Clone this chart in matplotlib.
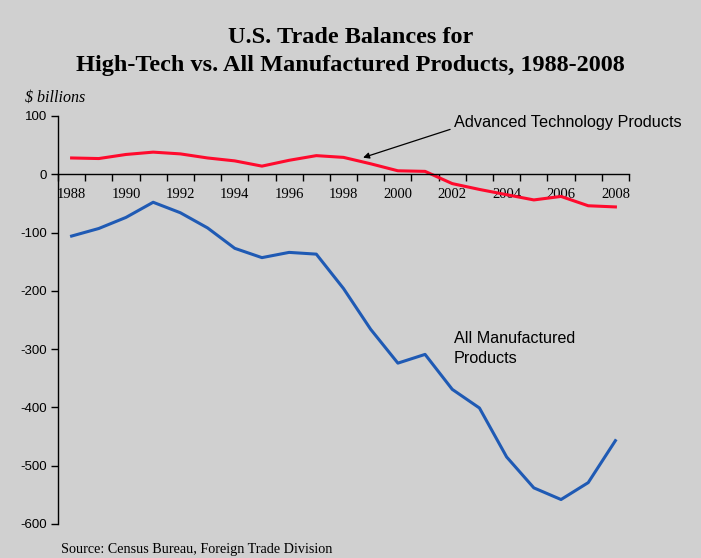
import numpy as np
import matplotlib
matplotlib.use('Agg')
import matplotlib.pyplot as plt

# data ($ billions)
years = list(range(1988, 2009))
adv_tech = [28, 27, 34, 38, 35, 28, 23, 14, 24, 32, 29, 18, 6, 5, -16, -26, -35, -44, -38, -54, -56]
all_manuf = [-106, -93, -74, -48, -66, -92, -127, -143, -134, -137, -196, -266, -324, -309, -369, -401, -485, -538, -558, -529, -457]
yticks = [100, 0, -100, -200, -300, -400, -500, -600]
year_labels = [str(y) for y in years[::2]]

bg = '#d0d0d0'
red = '#ff0a2d'
blue = '#1f5ab4'

fig = plt.figure(figsize=(7.01, 5.58), dpi=100, facecolor=bg)
ax = fig.add_axes([58/701, 34/558, 571/701, 408/558])
ax.set_facecolor(bg)

x = np.arange(len(years))
ax.plot(x, adv_tech, color=red, lw=2.2, solid_joinstyle='round')
ax.plot(x, all_manuf, color=blue, lw=2.2, solid_joinstyle='round')

ax.set_xlim(-0.5, len(years) - 0.5)
ax.set_ylim(-600, 100)

# axes look
ax.spines['top'].set_visible(False)
ax.spines['right'].set_visible(False)
ax.spines['bottom'].set_position(('data', 0))
for s in ['left', 'bottom']:
    ax.spines[s].set_linewidth(1.0)

ax.set_yticks(yticks)
ax.set_yticklabels([str(v) for v in yticks], fontfamily='Liberation Sans', fontsize=9.5)
ax.tick_params(axis='y', direction='out', length=5, width=1, pad=3)

# tick marks on category boundaries, labels centred on every other year
ax.set_xticks(np.arange(-0.5, len(years), 1.0))
ax.set_xticklabels([])
ax.tick_params(axis='x', which='major', direction='out', length=5, width=1)
ax.set_xticks(x[::2], minor=True)
ax.set_xticklabels(year_labels, minor=True, fontfamily='Liberation Serif', fontsize=10.5)
ax.tick_params(axis='x', which='minor', length=0, pad=10)

# annotations
ax.text(14.06, 88, 'Advanced Technology Products', fontfamily='Liberation Sans',
        fontsize=11.7, va='center', ha='left')
ax.annotate('', xy=(10.72, 28.6), xytext=(13.92, 77),
            arrowprops=dict(arrowstyle='-|>', color='black', lw=0.9,
                            mutation_scale=9, shrinkA=0, shrinkB=0))
ax.text(14.06, -299, 'All Manufactured\nProducts', fontfamily='Liberation Sans',
        fontsize=11.6, va='center', ha='left', linespacing=1.35)

fig.text(0.5, 1 - 51.5/558, 'U.S. Trade Balances for\nHigh-Tech vs. All Manufactured Products, 1988-2008',
         ha='center', va='center', fontfamily='Liberation Serif', fontweight='bold',
         fontsize=17.5, linespacing=1.4)
fig.text(25/701, 1 - 98/558, '$ billions', fontfamily='Liberation Serif', style='italic',
         fontsize=11.5, ha='left', va='center')
fig.text(61/701, 1 - 550/558, 'Source: Census Bureau, Foreign Trade Division',
         fontfamily='Liberation Serif', fontsize=10.2, ha='left', va='center')

fig.savefig('out.png', dpi=100, facecolor=bg)
